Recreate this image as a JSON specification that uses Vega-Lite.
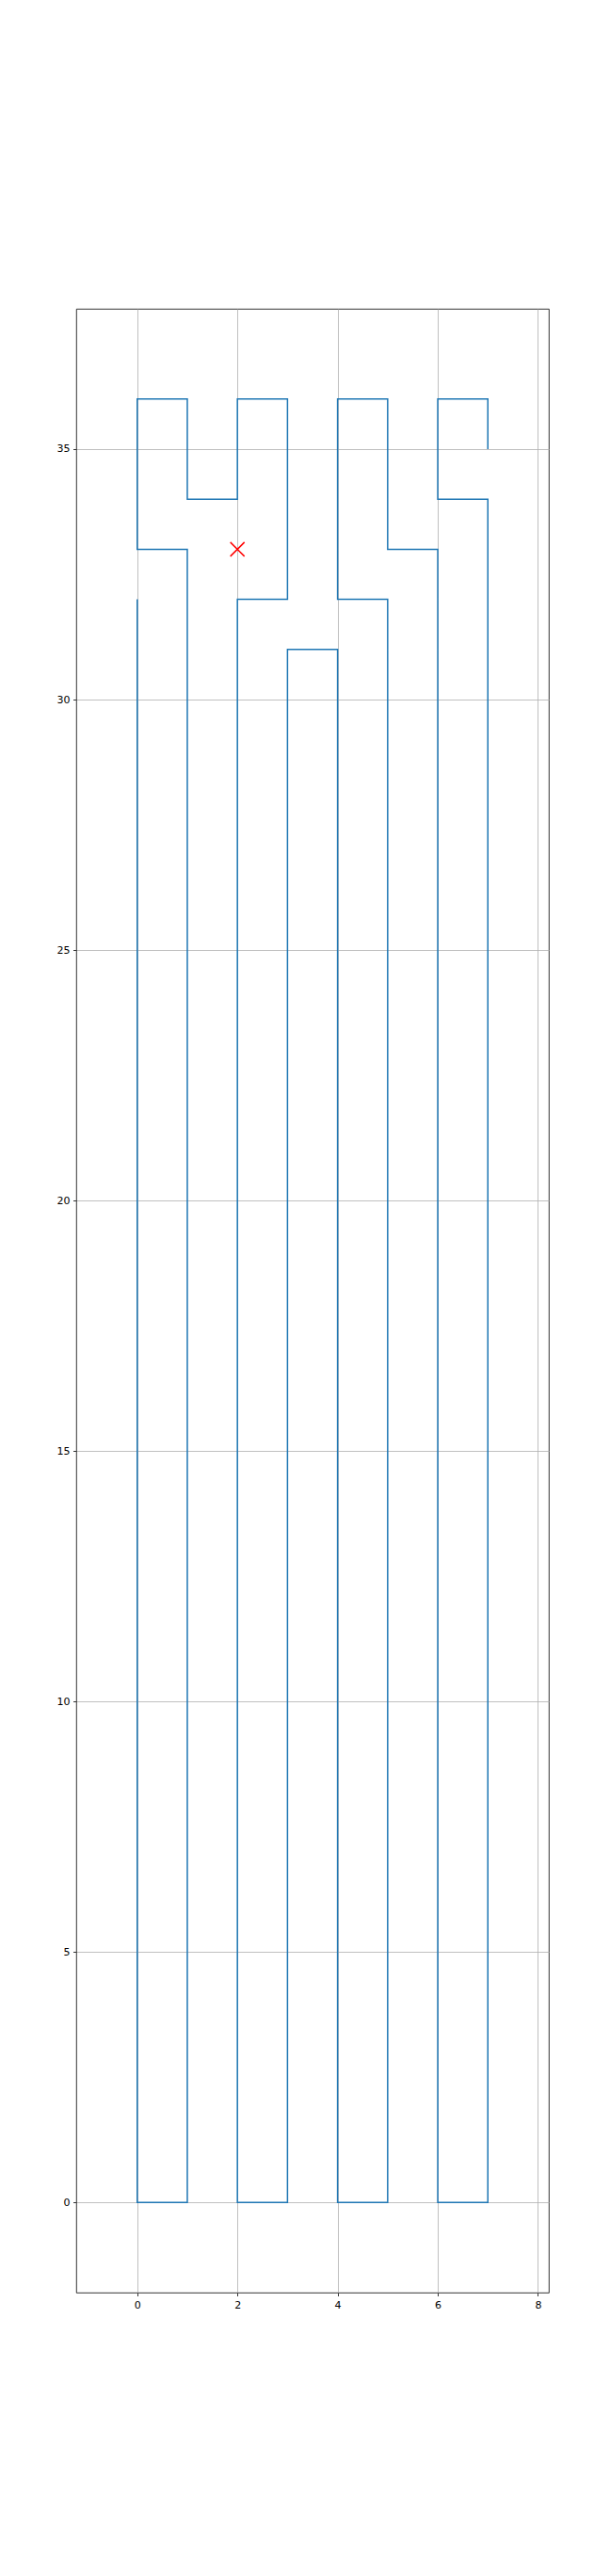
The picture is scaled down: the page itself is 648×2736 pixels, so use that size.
{
  "$schema": "https://vega.github.io/schema/vega-lite/v6.json",
  "autosize": "none",
  "width": 502,
  "height": 2107,
  "padding": {"left": 81, "top": 328, "right": 65, "bottom": 301},
  "background": "white",
  "config": {
    "view": {"stroke": "black", "strokeWidth": 0.8},
    "axis": {
      "domain": false,
      "grid": true,
      "gridColor": "#b0b0b0",
      "gridWidth": 0.8,
      "tickColor": "black",
      "tickWidth": 0.8,
      "tickSize": 3.5,
      "labelPadding": 3.5,
      "labelColor": "black",
      "labelFont": "DejaVu Sans",
      "labelFontSize": 11,
      "title": null
    }
  },
  "datasets": {
    "path": [
      {"i": 0, "x": 0, "y": 32},
      {"i": 1, "x": 0, "y": 0},
      {"i": 2, "x": 1, "y": 0},
      {"i": 3, "x": 1, "y": 33},
      {"i": 4, "x": 0, "y": 33},
      {"i": 5, "x": 0, "y": 36},
      {"i": 6, "x": 1, "y": 36},
      {"i": 7, "x": 1, "y": 34},
      {"i": 8, "x": 2, "y": 34},
      {"i": 9, "x": 2, "y": 36},
      {"i": 10, "x": 3, "y": 36},
      {"i": 11, "x": 3, "y": 32},
      {"i": 12, "x": 2, "y": 32},
      {"i": 13, "x": 2, "y": 0},
      {"i": 14, "x": 3, "y": 0},
      {"i": 15, "x": 3, "y": 31},
      {"i": 16, "x": 4, "y": 31},
      {"i": 17, "x": 4, "y": 0},
      {"i": 18, "x": 5, "y": 0},
      {"i": 19, "x": 5, "y": 32},
      {"i": 20, "x": 4, "y": 32},
      {"i": 21, "x": 4, "y": 36},
      {"i": 22, "x": 5, "y": 36},
      {"i": 23, "x": 5, "y": 33},
      {"i": 24, "x": 6, "y": 33},
      {"i": 25, "x": 6, "y": 0},
      {"i": 26, "x": 7, "y": 0},
      {"i": 27, "x": 7, "y": 34},
      {"i": 28, "x": 6, "y": 34},
      {"i": 29, "x": 6, "y": 36},
      {"i": 30, "x": 7, "y": 36},
      {"i": 31, "x": 7, "y": 35}
    ],
    "marker": [{"x": 2, "y": 33}]
  },
  "layer": [
    {
      "data": {"name": "path"},
      "mark": {"type": "line", "color": "#1f77b4", "strokeWidth": 1.5, "clip": true},
      "encoding": {
        "x": {"field": "x", "type": "quantitative", "scale": {"domain": [-1.217, 8.217], "nice": false, "zero": false}, "axis": {"values": [0, 2, 4, 6, 8]}},
        "y": {"field": "y", "type": "quantitative", "scale": {"domain": [-1.8, 37.8], "nice": false, "zero": false}, "axis": {"values": [0, 5, 10, 15, 20, 25, 30, 35]}},
        "order": {"field": "i", "type": "quantitative"}
      }
    },
    {
      "data": {"name": "marker"},
      "mark": {"type": "point", "shape": "M-1,-1L1,1M-1,1L1,-1", "size": 225, "stroke": "red", "strokeWidth": 1.5, "filled": false, "opacity": 1},
      "encoding": {
        "x": {"field": "x", "type": "quantitative"},
        "y": {"field": "y", "type": "quantitative"}
      }
    }
  ]
}
